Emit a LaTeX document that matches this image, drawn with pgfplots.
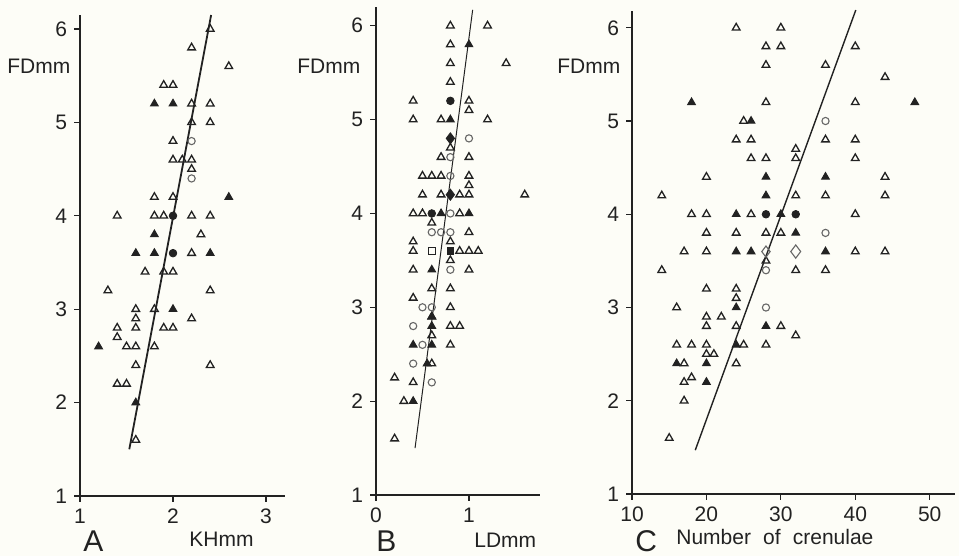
\documentclass[border=0pt]{standalone}
\usepackage{pgfplots}
\pgfplotsset{compat=1.18}
\usepackage{fontspec}
\setmainfont{Liberation Sans}
\definecolor{bgc}{HTML}{FDFDF7}
\definecolor{ink}{HTML}{222222}
\definecolor{cgray}{HTML}{666666}
\pgfplotsset{
  common/.style={
    scale only axis, axis lines=left,
    axis line style={-, line width=0.75pt, draw=ink},
    tick style={draw=ink, line width=0.6pt},
    tick align=outside, major tick length=3pt,
    ytick={1,2,3,4,5,6}, ymin=1, clip=false,
    ticklabel style={font=\fontsize{10.5}{12}\selectfont, text=ink},
    /pgf/number format/assume math mode=true,
  },
  ot/.style={only marks, mark=triangle, mark size=2.2pt, mark options={draw=ink, line width=0.65pt}},
  ft/.style={only marks, mark=triangle*, mark size=2.2pt, mark options={draw=ink, fill=ink, line width=0.5pt}},
  oc/.style={only marks, mark=o, mark size=1.8pt, mark options={draw=cgray, line width=0.55pt}},
  fc/.style={only marks, mark=*, mark size=1.9pt, mark options={draw=ink, fill=ink}},
  fd/.style={only marks, mark=diamond*, mark size=2.8pt, mark options={draw=ink, fill=ink}},
  od/.style={only marks, mark=diamond, mark size=2.8pt, mark options={draw=cgray, line width=0.55pt}},
  os/.style={only marks, mark=square, mark size=1.7pt, mark options={draw=ink, line width=0.65pt}},
  fs/.style={only marks, mark=square*, mark size=1.7pt, mark options={draw=ink, fill=ink}},
}
% Panel A
\pgfplotstableread{
x y
2.4 6.0
2.2 5.8
2.6 5.6
1.9 5.4
2.0 5.4
2.2 5.2
2.4 5.2
2.2 5.0
2.4 5.0
2.0 4.8
2.0 4.6
2.1 4.6
2.2 4.6
2.2 4.5
1.8 4.2
2.0 4.2
1.4 4.0
1.8 4.0
1.9 4.0
2.2 4.0
2.4 4.0
2.3 3.8
2.2 3.6
1.7 3.4
1.9 3.4
2.0 3.4
1.3 3.2
2.4 3.2
1.6 3.0
1.8 3.0
1.6 2.9
2.2 2.9
1.4 2.8
1.6 2.8
1.9 2.8
2.0 2.8
1.4 2.7
1.5 2.6
1.6 2.6
1.8 2.6
1.6 2.4
2.4 2.4
1.4 2.2
1.5 2.2
1.6 1.6
}\Aot
\pgfplotstableread{
x y
1.8 5.2
2.0 5.2
2.6 4.2
1.8 3.8
1.6 3.6
1.8 3.6
2.4 3.6
2.0 3.0
1.2 2.6
1.6 2.0
}\Aft
\pgfplotstableread{
x y
2.2 4.8
2.2 4.4
}\Aoc
\pgfplotstableread{
x y
2.0 4.0
2.0 3.6
}\Afc
% Panel B
\pgfplotstableread{
x y
0.8 6.0
1.2 6.0
0.8 5.8
0.8 5.6
1.4 5.6
0.8 5.4
0.4 5.2
1.0 5.2
1.0 5.1
0.4 5.0
0.7 5.0
1.2 5.0
0.8 4.7
0.7 4.6
1.0 4.6
0.5 4.4
0.6 4.4
0.7 4.4
1.0 4.4
1.0 4.3
0.5 4.2
0.7 4.2
0.9 4.2
1.0 4.2
1.6 4.2
0.4 4.0
0.5 4.0
0.9 4.0
0.6 3.9
1.0 3.8
0.4 3.7
0.8 3.7
0.4 3.6
0.9 3.6
1.0 3.6
1.1 3.6
0.8 3.5
0.4 3.4
1.0 3.4
0.6 3.2
0.8 3.2
0.4 3.1
0.8 3.0
0.6 2.9
0.8 2.8
0.9 2.8
0.6 2.7
0.8 2.6
0.6 2.4
0.2 2.25
0.4 2.2
0.3 2.0
0.2 1.6
}\Bot
\pgfplotstableread{
x y
1.0 5.8
0.8 5.0
0.7 4.0
1.0 4.0
0.6 3.4
0.6 2.9
0.6 2.8
0.4 2.6
0.6 2.6
0.55 2.4
0.4 2.0
}\Bft
\pgfplotstableread{
x y
1.0 4.8
0.8 4.6
0.8 4.4
0.8 4.0
0.6 3.8
0.7 3.8
0.8 3.8
0.8 3.4
0.5 3.0
0.6 3.0
0.4 2.8
0.5 2.6
0.4 2.4
0.6 2.2
}\Boc
\pgfplotstableread{
x y
0.8 5.2
0.6 4.0
}\Bfc
% Panel C
\pgfplotstableread{
x y
24 6.0
30 6.0
28 5.8
30 5.8
40 5.8
28 5.6
36 5.6
44 5.47
28 5.2
40 5.2
25 5.0
24 4.8
26 4.8
32 4.7
36 4.8
40 4.8
26 4.6
28 4.6
32 4.6
40 4.6
20 4.4
44 4.4
14 4.2
32 4.2
36 4.2
44 4.2
18 4.0
20 4.0
26 4.0
40 4.0
20 3.8
24 3.8
28 3.8
30 3.8
17 3.6
20 3.6
40 3.6
44 3.6
28 3.5
14 3.4
32 3.4
36 3.4
20 3.2
24 3.2
24 3.1
16 3.0
20 2.9
22 2.9
20 2.8
24 2.8
30 2.8
32 2.7
16 2.6
18 2.6
20 2.6
25 2.6
28 2.6
20 2.5
21 2.5
17 2.4
24 2.4
17 2.2
18 2.25
17 2.0
15 1.6
}\Cot
\pgfplotstableread{
x y
18 5.2
48 5.2
26 5.0
28 4.4
36 4.4
28 4.2
24 4.0
30 4.0
32 3.8
24 3.6
26 3.6
36 3.6
24 3.0
28 2.8
24 2.6
16 2.4
20 2.4
20 2.2
}\Cft
\pgfplotstableread{
x y
36 5.0
36 3.8
28 3.4
28 3.0
}\Coc
\pgfplotstableread{
x y
28 4.0
32 4.0
}\Cfc
\begin{document}
\begin{tikzpicture}[x=1pt,y=1pt]
\useasboundingbox (0,0) rectangle (479.5,278);
\fill[bgc] (0,0) rectangle (479.5,278);
% ---------- A
\begin{axis}[common, at={(40pt,30pt)}, anchor=south west,
  width=102.3pt, height=240.5pt, xmin=1, xmax=3.2, ymax=6.15, xtick={1,2,3}]
\addplot[ink, line width=0.9pt] coordinates {(1.53,1.5) (2.41,6.15)};
\addplot[ot] table {\Aot};
\addplot[ft] table {\Aft};
\addplot[oc] table {\Aoc};
\addplot[fc] table {\Afc};
\end{axis}
% ---------- B
\begin{axis}[common, at={(188pt,30.5pt)}, anchor=south west,
  width=81.8pt, height=244pt, xmin=0, xmax=1.76, ymax=6.2, xtick={0,1}]
\addplot[ink, line width=0.5pt] coordinates {(0.42,1.5) (1.04,6.17)};
\addplot[ot] table {\Bot};
\addplot[ft] table {\Bft};
\addplot[oc] table {\Boc};
\addplot[fc] table {\Bfc};
\addplot[fd] coordinates {(0.8,4.8) (0.8,4.2)};
\addplot[os] coordinates {(0.6,3.6)};
\addplot[fs] coordinates {(0.8,3.6)};
\end{axis}
% ---------- C
\begin{axis}[common, at={(316pt,31pt)}, anchor=south west,
  width=161.5pt, height=241.5pt, xmin=10, xmax=53.4, ymax=6.18, xtick={10,20,30,40,50}]
\addplot[ink, line width=0.7pt] coordinates {(18.5,1.47) (40.07,6.19)};
\addplot[ot] table {\Cot};
\addplot[ft] table {\Cft};
\addplot[oc] table {\Coc};
\addplot[fc] table {\Cfc};
\addplot[od] coordinates {(28,3.6)};
\addplot[od, mark size=3.3pt] coordinates {(32,3.6)};
\end{axis}
% ---------- labels
\begin{scope}[every node/.style={inner sep=0pt, anchor=base west, text=ink}]
\node[font=\fontsize{10.5}{12}\selectfont] at (3.5,241) {FDmm};
\node[font=\fontsize{10.5}{12}\selectfont] at (148.5,241) {FDmm};
\node[font=\fontsize{10.5}{12}\selectfont] at (278.5,241) {FDmm};
\node[font=\fontsize{15}{17}\selectfont] at (41.5,2) {A};
\node[font=\fontsize{15}{17}\selectfont] at (188,2) {B};
\node[font=\fontsize{15}{17}\selectfont] at (317.5,2) {C};
\node[font=\fontsize{10.5}{12}\selectfont] at (94.5,4.5) {KHmm};
\node[font=\fontsize{10.5}{12}\selectfont] at (237,4) {LDmm};
\node[font=\fontsize{10.5}{12}\selectfont] at (338,5.5) {Number\hspace{0.3em} of\hspace{0.3em} crenulae};
\end{scope}
\end{tikzpicture}
\end{document}
